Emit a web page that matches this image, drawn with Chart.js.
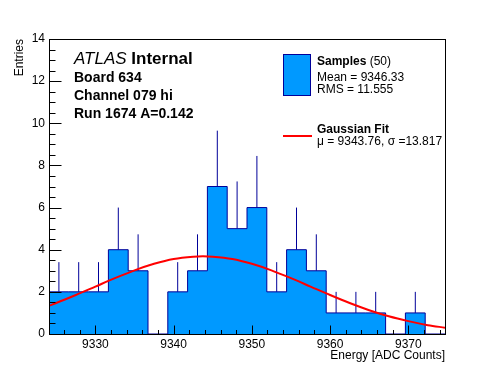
<!DOCTYPE html>
<html lang="en">
<head>
<meta charset="UTF-8">
<title>Board 634 Channel 079 hi</title>
<style>
    body {
        margin: 0;
        padding: 0;
        background-color: #ffffff;
    }
    #wrap {
        width: 496px;
        height: 372px;
    }
</style>
</head>
<body>
<div id="wrap"><canvas id="histo" width="496" height="372"></canvas></div>
<script src="https://cdn.jsdelivr.net/npm/chart.js"></script>
<script>
    // histogram, 20 equal bins between histMin and histMax
    const histMin = 9324.07;
    const histMax = 9374.69;
    const binCounts = [2, 2, 2, 4, 3, 0, 2, 3, 7, 5, 6, 2, 4, 3, 1, 1, 1, 0, 1, 0];
    const binErrors = [1.41, 1.41, 1.41, 2, 1.73, 0, 1.41, 1.73, 2.65, 2.24, 2.45, 1.41, 2, 1.73, 1, 1, 1, 0, 1, 0];

    // gaussian fit curve
    const fitX = [9324.07, 9325, 9327.5, 9330, 9332.5, 9335, 9337.5, 9340, 9342.5, 9343.75, 9345, 9347.5,
                  9350, 9352.5, 9355, 9357.5, 9360, 9362.5, 9365, 9367.5, 9370, 9372.5, 9374.69];
    const fitY = [1.34, 1.47, 1.85, 2.25, 2.65, 3.02, 3.33, 3.56, 3.67, 3.69, 3.67, 3.56,
                  3.33, 3.02, 2.65, 2.25, 1.85, 1.47, 1.13, 0.84, 0.61, 0.42, 0.30];

    const xTickLabels = [9330, 9340, 9350, 9360, 9370];
    const yTickLabels = [0, 2, 4, 6, 8, 10, 12, 14];

    const FONT = '"Liberation Sans", Arial, sans-serif';
    const fillBlue = '#0099ff';
    const lineBlue = '#000099';

    const binWidth = (histMax - histMin) / binCounts.length;
    const stepPoints = binCounts.map((c, i) => ({ x: histMin + i * binWidth, y: c }));
    stepPoints.push({ x: histMax, y: binCounts[binCounts.length - 1] });

    // one segment per bin, split by nulls
    const errPoints = [];
    binCounts.forEach((c, i) => {
        if (binErrors[i] <= 0) return;
        const cx = histMin + (i + 0.5) * binWidth;
        errPoints.push({ x: cx, y: c }, { x: cx, y: c + binErrors[i] }, { x: cx, y: null });
    });

    const fitPoints = fitX.map((x, i) => ({ x: x, y: fitY[i] }));

    // ROOT style frame with inward ticks
    const framePlugin = {
        id: 'frame',
        afterDatasetsDraw(chart) {
            const ctx = chart.ctx;
            const a = chart.chartArea;
            const xs = chart.scales.x;
            const ys = chart.scales.y;
            const L = Math.floor(a.left) + 0.5, R = Math.floor(a.right) + 0.5;
            const T = Math.floor(a.top) + 0.5, B = Math.floor(a.bottom) + 0.5;
            ctx.save();
            ctx.strokeStyle = '#000';
            ctx.lineWidth = 1;
            ctx.strokeRect(L, T, R - L, B - T);
            ctx.beginPath();
            for (let v = 9326; v <= 9374; v += 2) {
                const px = Math.round(xs.getPixelForValue(v)) + 0.5;
                const len = (v % 10 === 0) ? 9 : 4.5;
                ctx.moveTo(px, B);
                ctx.lineTo(px, B - len);
            }
            for (let v = 0.5; v < 14; v += 0.5) {
                const py = Math.round(ys.getPixelForValue(v)) + 0.5;
                const len = (v % 2 === 0) ? 12 : 6;
                ctx.moveTo(L, py);
                ctx.lineTo(L + len, py);
            }
            ctx.stroke();
            ctx.restore();
        }
    };

    const textPlugin = {
        id: 'labels',
        afterDraw(chart) {
            const ctx = chart.ctx;
            ctx.save();
            ctx.fillStyle = '#000';
            ctx.textBaseline = 'alphabetic';
            ctx.textAlign = 'left';

            ctx.font = 'italic 17px ' + FONT;
            ctx.fillText('ATLAS', 74, 64);
            const w = ctx.measureText('ATLAS ').width;
            ctx.font = 'bold 17px ' + FONT;
            ctx.fillText('Internal', 74 + w, 64);

            ctx.font = 'bold 14px ' + FONT;
            ctx.fillText('Board 634', 74, 82);
            ctx.fillText('Channel 079 hi', 74, 100);
            ctx.fillText('Run 1674 A=0.142', 74, 118);

            // legend
            ctx.fillStyle = fillBlue;
            ctx.fillRect(283.5, 54.5, 27, 41);
            ctx.strokeStyle = lineBlue;
            ctx.lineWidth = 1;
            ctx.strokeRect(283.5, 54.5, 27, 41);

            ctx.fillStyle = '#000';
            ctx.font = 'bold 12px ' + FONT;
            ctx.fillText('Samples', 317, 65);
            const sw = ctx.measureText('Samples ').width;
            ctx.font = '12px ' + FONT;
            ctx.fillText('(50)', 317 + sw, 65);
            ctx.fillText('Mean = 9346.33', 317, 80.5);
            ctx.fillText('RMS = 11.555', 317, 93);

            ctx.strokeStyle = '#ff0000';
            ctx.lineWidth = 2;
            ctx.beginPath();
            ctx.moveTo(283, 136);
            ctx.lineTo(312, 136);
            ctx.stroke();

            ctx.font = 'bold 12px ' + FONT;
            ctx.fillText('Gaussian Fit', 317, 133);
            ctx.font = '12px ' + FONT;
            ctx.fillText('\u03bc = 9343.76, \u03c3 =13.817', 317, 145);
            ctx.restore();
        }
    };

    new Chart(document.getElementById('histo'), {
        type: 'line',
        data: {
            datasets: [
                {
                    label: 'Gaussian Fit',
                    data: fitPoints,
                    borderColor: '#ff0000',
                    borderWidth: 2,
                    pointRadius: 0,
                    cubicInterpolationMode: 'monotone',
                    fill: false,
                    order: 0
                },
                {
                    label: 'Samples',
                    data: stepPoints,
                    stepped: 'before',
                    borderColor: lineBlue,
                    backgroundColor: fillBlue,
                    borderWidth: 1,
                    pointRadius: 0,
                    fill: 'origin',
                    order: 1
                },
                {
                    label: 'errors',
                    data: errPoints,
                    borderColor: lineBlue,
                    borderWidth: 1,
                    pointRadius: 0,
                    spanGaps: false,
                    fill: false,
                    order: 2
                }
            ]
        },
        options: {
            responsive: false,
            animation: false,
            events: [],
            layout: { padding: { left: 0, right: 51, top: 39, bottom: 0 } },
            plugins: {
                legend: { display: false },
                tooltip: { enabled: false }
            },
            scales: {
                x: {
                    type: 'linear',
                    min: histMin,
                    max: histMax,
                    grid: { display: false, drawTicks: false },
                    border: { display: false },
                    afterBuildTicks: s => { s.ticks = xTickLabels.map(v => ({ value: v })); },
                    afterFit: s => { s.height = 38; },
                    ticks: {
                        color: '#000',
                        padding: 3,
                        maxRotation: 0,
                        font: { family: FONT, size: 12 },
                        callback: v => String(v)
                    },
                    title: {
                        display: true,
                        text: 'Energy [ADC Counts]',
                        align: 'end',
                        color: '#000',
                        font: { family: FONT, size: 12 },
                        padding: { top: 0, bottom: 9 }
                    }
                },
                y: {
                    min: 0,
                    max: 14,
                    grid: { display: false, drawTicks: false },
                    border: { display: false },
                    afterBuildTicks: s => { s.ticks = yTickLabels.map(v => ({ value: v })); },
                    afterFit: s => { s.width = 49; },
                    ticks: {
                        color: '#000',
                        padding: 4,
                        font: { family: FONT, size: 12 },
                        callback: v => String(v)
                    },
                    title: {
                        display: true,
                        text: 'Entries',
                        align: 'end',
                        color: '#000',
                        font: { family: FONT, size: 12 },
                        padding: { top: 12, bottom: 0 }
                    }
                }
            }
        },
        plugins: [framePlugin, textPlugin]
    });
</script>
</body>
</html>
